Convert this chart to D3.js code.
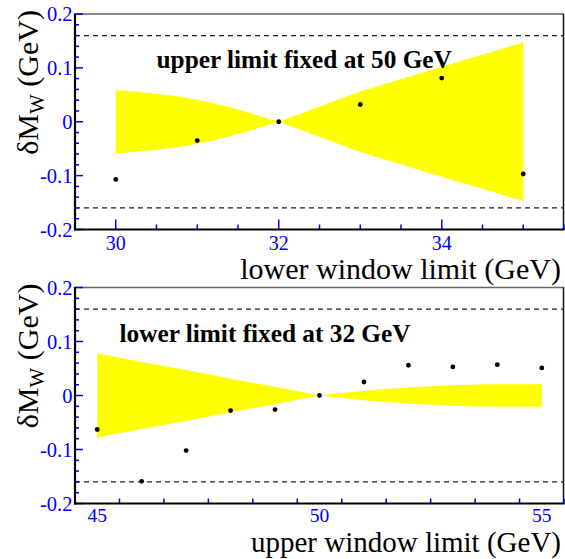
<!DOCTYPE html>
<html><head><meta charset="utf-8">
<script src="https://cdn.jsdelivr.net/npm/d3@7"></script>
<style>body{margin:0;background:#fff}svg{display:block}</style>
</head><body>
<script>
// ---- data ----
const topX = [30, 31, 32, 33, 34, 35];
const topVal = [-0.107, -0.035, 0, 0.032, 0.081, -0.097];
const topBand = [0.059, 0.041, 0, 0.056, 0.102, 0.147];
const topXTicks = [30, 32, 34];
const botX = [45, 46, 47, 48, 49, 50, 51, 52, 53, 54, 55];
const botVal = [-0.063, -0.159, -0.102, -0.028, -0.026, 0, 0.025, 0.056, 0.053, 0.057, 0.051];
const botBand = [0.078, 0.062, 0.047, 0.031, 0.016, 0, 0.009, 0.015, 0.019, 0.021, 0.021];
const botXTicks = [45, 50, 55];
const yTicks = [-0.2, -0.1, 0, 0.1, 0.2];
const yTickLabels = ["-0.2", "-0.1", "0", "0.1", "0.2"];
const limitLine = 0.16;

const W = 565, H = 559;
const svg = d3.select("body").append("svg").attr("width", W).attr("height", H);
const serif = "'Liberation Serif','Times New Roman',serif";
const blue = "#0000ff";

function panel(cfg) {
  const x = d3.scaleLinear().domain(cfg.xDomain).range([75, 564]);
  const y = d3.scaleLinear().domain([-0.2, 0.2]).range([cfg.y1, cfg.y0]);
  const g = svg.append("g");

  // band: two segments joined at the pivot
  const pts = cfg.xs.map((v, i) => ({x: v, h: cfg.band[i]}));
  const pivot = cfg.xs.indexOf(cfg.pivot);
  const left = pts.slice(0, pivot + 1), right = pts.slice(pivot);
  const mk = (curve) => d3.area().x(d => x(d.x)).y0(d => y(-d.h)).y1(d => y(d.h)).curve(curve);
  g.append("path").attr("d", mk(cfg.leftCurve)(left)).attr("fill", "#ffff00");
  g.append("path").attr("d", mk(cfg.rightCurve)(right)).attr("fill", "#ffff00");

  // dashed limits
  [limitLine, -limitLine].forEach(v => {
    g.append("line").attr("x1", 75).attr("x2", 564).attr("y1", y(v)).attr("y2", y(v))
      .attr("stroke", "#222").attr("stroke-width", 1.2).attr("stroke-dasharray", "5,4");
  });

  // frame top/right
  g.append("line").attr("x1", 75).attr("x2", 564).attr("y1", cfg.y0).attr("y2", cfg.y0)
    .attr("stroke", "#666").attr("stroke-width", 1.5);
  g.append("line").attr("x1", 563.5).attr("x2", 563.5).attr("y1", cfg.y0).attr("y2", cfg.y1)
    .attr("stroke", "#111").attr("stroke-width", 1.5);

  // y axis ticks (inside, blue)
  const yMinor = d3.range(-0.2, 0.2001, 0.02);
  yMinor.forEach(v => {
    const major = Math.abs(Math.round(v * 10) - v * 10) < 1e-6;
    g.append("line").attr("x1", 75).attr("x2", 75 + (major ? 8 : 4))
      .attr("y1", y(v)).attr("y2", y(v)).attr("stroke", blue).attr("stroke-width", 1.5);
  });
  yTicks.forEach((v, i) => {
    g.append("text").attr("x", 72.5).attr("y", y(v) + 7).attr("text-anchor", "end")
      .attr("font-family", serif).attr("font-size", 20.5).attr("fill", blue).text(yTickLabels[i]);
  });

  // x axis ticks
  d3.range(cfg.xDomain[0] + cfg.minorStep, cfg.xDomain[1] + 1e-6, cfg.minorStep).forEach(v => {
    const major = cfg.xTicks.some(t => Math.abs(t - v) < 1e-6);
    g.append("line").attr("x1", x(v)).attr("x2", x(v)).attr("y1", cfg.y1).attr("y2", cfg.y1 - (major ? 10 : 5))
      .attr("stroke", blue).attr("stroke-width", 1.5);
  });
  cfg.xTicks.forEach(v => {
    g.append("text").attr("x", x(v)).attr("y", cfg.y1 + cfg.tickDy).attr("text-anchor", "middle")
      .attr("font-family", serif).attr("font-size", cfg.tickFs).attr("fill", blue).text(v);
  });

  // left & bottom axis lines
  g.append("line").attr("x1", 75).attr("x2", 75).attr("y1", cfg.y0 - 0.5).attr("y2", cfg.y1 + 1)
    .attr("stroke", "#000").attr("stroke-width", 2.2);
  g.append("line").attr("x1", 74).attr("x2", 564.5).attr("y1", cfg.y1).attr("y2", cfg.y1)
    .attr("stroke", "#000").attr("stroke-width", 2.2);

  // points
  g.selectAll("circle.p").data(cfg.xs.map((v, i) => [v, cfg.vals[i]])).enter().append("circle")
    .attr("cx", d => x(d[0])).attr("cy", d => y(d[1])).attr("r", 2.4).attr("fill", "#000");

  // annotation
  g.append("text").attr("x", x(cfg.note[0])).attr("y", y(cfg.note[1]))
    .attr("font-family", serif).attr("font-weight", "bold").attr("font-size", 25.3).attr("fill", "#000")
    .text(cfg.noteText);

  // x title
  g.append("text").attr("x", 561).attr("y", cfg.y1 + cfg.titleDy).attr("text-anchor", "end")
    .attr("font-family", serif).attr("font-size", cfg.titleFs).attr("fill", "#000").text(cfg.xTitle);

  // y title
  const yt = g.append("text").attr("transform", `translate(38,${cfg.y0 - 4}) rotate(-90)`)
    .attr("text-anchor", "end").attr("font-family", serif).attr("font-size", 30).attr("fill", "#000");
  yt.append("tspan").text("δM");
  yt.append("tspan").attr("font-size", 21).attr("dy", 6).text("W");
  yt.append("tspan").attr("dy", -6).text(" (GeV)");
}

panel({xDomain: [29.5, 35.5], y0: 14, y1: 229.5, xs: topX, vals: topVal, band: topBand, pivot: 32,
  leftCurve: d3.curveMonotoneX, rightCurve: d3.curveLinear, xTicks: topXTicks, minorStep: 0.5,
  tickDy: 20, titleDy: 49, tickFs: 20, titleFs: 30,
  note: [30.5, 0.099], noteText: "upper limit fixed at 50 GeV", xTitle: "lower window limit (GeV)"});
panel({xDomain: [44.5, 55.5], y0: 287.5, y1: 503.5, xs: botX, vals: botVal, band: botBand, pivot: 50,
  leftCurve: d3.curveLinear, rightCurve: d3.curveMonotoneX, xTicks: botXTicks, minorStep: 1,
  tickDy: 18, titleDy: 48, tickFs: 19.5, titleFs: 29,
  note: [45.5, 0.1], noteText: "lower limit fixed at 32 GeV", xTitle: "upper window limit (GeV)"});
</script>
</body></html>
